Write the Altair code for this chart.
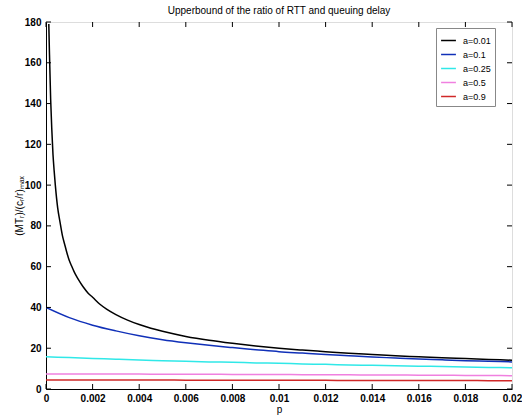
import altair as alt
import pandas as pd

# --- data ---
series_names = ["a=0.01", "a=0.1", "a=0.25", "a=0.5", "a=0.9"]
series_colors = ["#000000", "#1030b8", "#30e8e8", "#f080e0", "#d02828"]

p_black = [0.00012, 0.00015, 0.0002, 0.00025, 0.0003, 0.00035, 0.0004, 0.0005, 0.0006,
           0.0007, 0.0008, 0.0009, 0.001, 0.0011, 0.0012, 0.0013, 0.0014, 0.0016,
           0.0018, 0.002, 0.0023, 0.0026, 0.003, 0.0035, 0.004, 0.0045, 0.005, 0.006,
           0.007, 0.008, 0.009, 0.01, 0.011, 0.012, 0.013, 0.014, 0.015, 0.016,
           0.017, 0.018, 0.019, 0.02]
v_black = [179, 164, 142, 127, 115, 107, 100, 89, 82,
           75.5, 71, 66.7, 63, 60.3, 57.7, 55.5, 53.5, 50,
           47.1, 45, 41.7, 39.2, 36.5, 33.8, 31.6, 29.8, 28.3, 25.8,
           23.9, 22.4, 21.1, 20, 19.1, 18.3, 17.5, 16.9, 16.3, 15.8,
           15.3, 14.9, 14.5, 14.1]

p_grid = [0.0, 0.001, 0.002, 0.003, 0.004, 0.005, 0.006, 0.007, 0.008, 0.009,
          0.01, 0.011, 0.012, 0.013, 0.014, 0.015, 0.016, 0.017, 0.018, 0.019, 0.02]
v_blue = [40, 35, 31.3, 28.5, 26.1, 24.2, 22.7, 21.4, 20.3, 19.3,
          18.3, 17.6, 16.9, 16.3, 15.7, 15.2, 14.7, 14.3, 13.9, 13.6, 13.3]
v_cyan = [15.8, 15.4, 15.0, 14.6, 14.2, 13.9, 13.6, 13.3, 13.1, 12.8,
          12.6, 12.3, 12.1, 11.8, 11.6, 11.4, 11.2, 11.0, 10.8, 10.6, 10.4]
v_pink = [7.4, 7.38, 7.35, 7.33, 7.3, 7.27, 7.24, 7.2, 7.16, 7.12,
          7.08, 7.04, 7.0, 6.95, 6.9, 6.85, 6.8, 6.74, 6.68, 6.6, 6.55]
v_red = [4.4, 4.4, 4.39, 4.38, 4.37, 4.36, 4.35, 4.34, 4.32, 4.3,
         4.28, 4.26, 4.24, 4.22, 4.2, 4.18, 4.16, 4.14, 4.12, 4.1, 4.08]

x_ticks = [0, 0.002, 0.004, 0.006, 0.008, 0.01, 0.012, 0.014, 0.016, 0.018, 0.02]
y_ticks = [0, 20, 40, 60, 80, 100, 120, 140, 160, 180]

title_text = "Upperbound of the ratio of RTT and queuing delay"
x_title = "p"
y_title = "(MT\u1d63)/(c\u1d63/r)\u2098\u2090\u2093"

# --- build tables ---
rows = []
for p, v in zip(p_black, v_black):
    rows.append({"p": p, "v": v, "s": series_names[0]})
for name, vals in zip(series_names[1:], [v_blue, v_cyan, v_pink, v_red]):
    for p, v in zip(p_grid, vals):
        rows.append({"p": p, "v": v, "s": name})
df = pd.DataFrame(rows)

W, H = 466, 367
FONT = "Liberation Sans"

xs = alt.Scale(domain=[0, 0.02], nice=False, zero=False)
ys = alt.Scale(domain=[0, 180], nice=False)

lines = alt.Chart(df).mark_line(strokeWidth=1.5, clip=True, interpolate="monotone").encode(
    x=alt.X("p:Q", scale=xs,
            axis=alt.Axis(values=x_ticks, format="~g", title=x_title, ticks=False,
                          grid=False, labelFontSize=10, labelFontWeight="bold",
                          labelColor="#000", titleFontSize=10, titleFontWeight="normal",
                          titleColor="#000", labelPadding=4, titlePadding=1,
                          domainColor="#000", labelFlush=False)),
    y=alt.Y("v:Q", scale=ys,
            axis=alt.Axis(values=y_ticks, title=y_title, ticks=False, grid=False,
                          labelFontSize=10, labelFontWeight="bold", labelColor="#000",
                          titleFontSize=10, titleFontWeight="normal", titleColor="#000",
                          labelPadding=5, titlePadding=0, domainColor="#000")),
    color=alt.Color("s:N", sort=series_names,
                    scale=alt.Scale(domain=series_names, range=series_colors),
                    legend=alt.Legend(title=None, orient="none", legendX=390, legendY=6,
                                      symbolType="stroke", symbolStrokeWidth=1.5,
                                      symbolSize=220, labelFontSize=9, labelColor="#000",
                                      fillColor="white", strokeColor="#888888",
                                      padding=4, rowPadding=0, labelFont=FONT,
                                      labelOffset=6)),
    detail="s:N",
)

# inward ticks (MATLAB style)
tx = pd.DataFrame({"t": x_ticks})
ty = pd.DataFrame({"t": y_ticks})
tick_len = 5
bottom_ticks = alt.Chart(tx).mark_rule(color="#000", strokeWidth=1).encode(
    x=alt.X("t:Q", scale=xs), y=alt.value(H), y2=alt.value(H - tick_len))
top_ticks = alt.Chart(tx).mark_rule(color="#000", strokeWidth=1).encode(
    x=alt.X("t:Q", scale=xs), y=alt.value(0), y2=alt.value(tick_len))
left_ticks = alt.Chart(ty).mark_rule(color="#000", strokeWidth=1).encode(
    y=alt.Y("t:Q", scale=ys), x=alt.value(0), x2=alt.value(tick_len))
right_ticks = alt.Chart(ty).mark_rule(color="#000", strokeWidth=1).encode(
    y=alt.Y("t:Q", scale=ys), x=alt.value(W), x2=alt.value(W - tick_len))

chart = alt.layer(lines, bottom_ticks, top_ticks, left_ticks, right_ticks).properties(
    width=W, height=H,
    title=alt.TitleParams(title_text, fontSize=10, fontWeight="normal", color="#000",
                          font=FONT, offset=1, anchor="middle"),
    autosize=alt.AutoSizeParams(type="none"),
    padding={"left": 46, "top": 22, "right": 10, "bottom": 28},
).configure_view(stroke="#000", strokeWidth=1).configure_axis(
    labelFont=FONT, titleFont=FONT
).configure(background="white")

chart.save("out.html", embed_options={"renderer": "svg", "actions": False})
